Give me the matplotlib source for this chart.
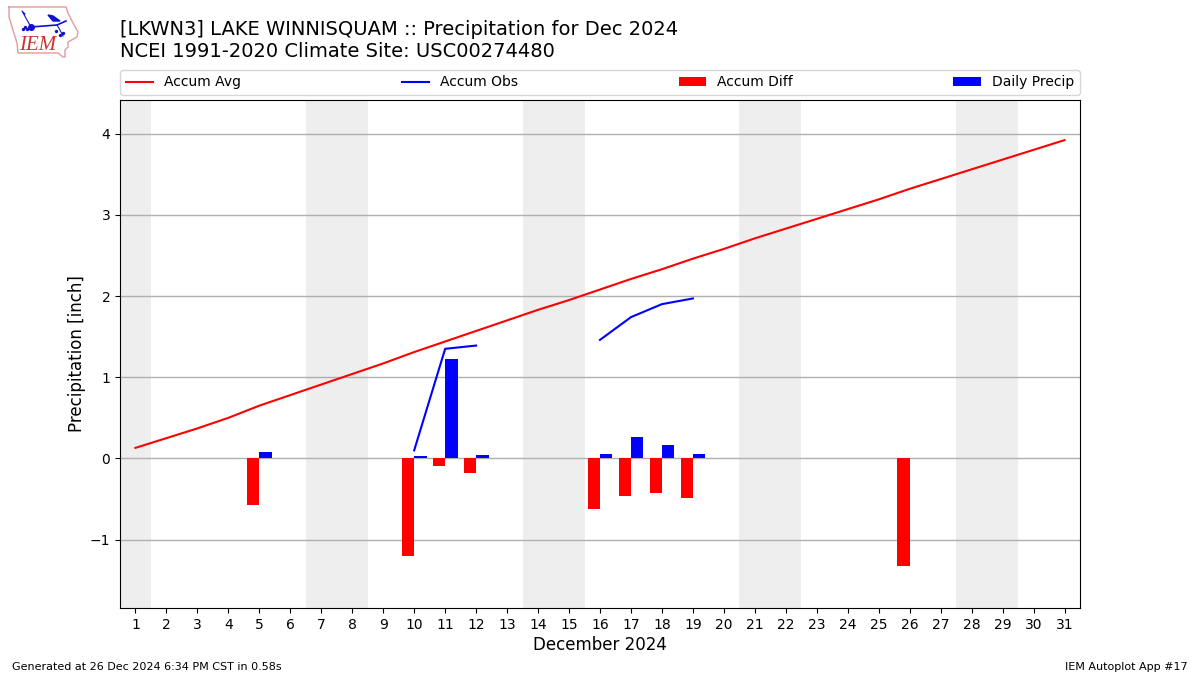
import numpy as np
import matplotlib
matplotlib.use("Agg")
import matplotlib.pyplot as plt

# Values
days = list(range(1, 32))
accum_avg = [0.13, 0.25, 0.37, 0.50, 0.65, 0.78, 0.91, 1.04, 1.17, 1.31, 1.44,
             1.57, 1.70, 1.83, 1.95, 2.08, 2.21, 2.33, 2.46, 2.58, 2.71, 2.83,
             2.95, 3.07, 3.19, 3.32, 3.44, 3.56, 3.68, 3.80, 3.92]
obs_segments_days = [[10, 11, 12], [16, 17, 18, 19]]
obs_segments_vals = [[0.10, 1.35, 1.39], [1.46, 1.74, 1.90, 1.97]]
diff_days = [5, 10, 11, 12, 16, 17, 18, 19, 26]
accum_diff = [-0.57, -1.20, -0.09, -0.18, -0.62, -0.46, -0.42, -0.49, -1.33]
precip_days = [5, 10, 11, 12, 16, 17, 18, 19]
daily_precip = [0.08, 0.03, 1.23, 0.04, 0.06, 0.27, 0.16, 0.06]
weekends = [(0.5, 1.5), (6.5, 8.5), (13.5, 15.5), (20.5, 22.5), (27.5, 29.5)]

# Logo shapes, in figure pixels
state_x = [9, 66, 68, 73, 78, 77, 68, 68, 65, 65, 63, 58, 18, 17, 13, 9, 9]
state_y = [7, 7, 13, 23, 32, 37, 42, 47, 50, 57, 57, 53, 53, 43, 30, 17, 7]
staff_x = [31, 57, 66]
staff_y = [27, 25, 21]
flag_x = [48, 53, 60, 53, 48]
flag_y = [15, 16, 21, 21, 15]
barb_x = [31, 27, 22, 25]
barb_y = [27, 20, 11, 14]
drop_x = [23, 25, 27, 56, 60, 63]
drop_y = [29, 27, 29, 31, 35, 33]

fig = plt.figure(figsize=(12, 6.75), dpi=100)
ax = fig.add_axes([120 / 1200, 1 - 608 / 675, 960 / 1200, 508 / 675])

for start, end in weekends:
    ax.axvspan(start, end, color="#eeeeee", lw=0, zorder=0)

ax.plot(days, accum_avg, color="r", lw=1.5, label="Accum Avg", zorder=3)
for i in range(len(obs_segments_days)):
    ax.plot(obs_segments_days[i], obs_segments_vals[i], color="b", lw=1.5,
            label="Accum Obs" if i == 0 else None, zorder=3)
ax.bar(np.array(diff_days) - 0.4, accum_diff, width=0.4, align="edge", color="r",
       label="Accum Diff", zorder=2)
ax.bar(precip_days, daily_precip, width=0.4, align="edge", color="b",
       label="Daily Precip", zorder=2)

ax.set_xlim(0.5, 31.5)
ax.set_ylim(-1.842, 4.414)
ax.set_xticks(days)
ax.set_yticks([-1, 0, 1, 2, 3, 4])
ax.grid(axis="y", color="#b0b0b0", lw=1)
ax.set_axisbelow(True)
ax.set_xlabel("December 2024", fontsize=12, labelpad=3)
ax.set_ylabel("Precipitation [inch]", fontsize=12, labelpad=3)
ax.legend(loc="lower left", bbox_to_anchor=(0, 1.01, 1, 0.1), ncol=4, mode="expand",
          borderaxespad=0, fontsize=10)

fig.text(120 / 1200, 1 - 61 / 675,
         "[LKWN3] LAKE WINNISQUAM :: Precipitation for Dec 2024\n"
         "NCEI 1991-2020 Climate Site: USC00274480", fontsize=14, va="bottom", ha="left")
fig.text(12 / 1200, 1 - 670 / 675, "Generated at 26 Dec 2024 6:34 PM CST in 0.58s", fontsize=8)
fig.text(1188 / 1200, 1 - 670 / 675, "IEM Autoplot App #17", fontsize=8, ha="right")

# IEM logo drawn on a pixel-sized overlay
logo = fig.add_axes([0, 0, 1, 1], facecolor="none")
logo.set_xlim(0, 1200)
logo.set_ylim(675, 0)
logo.axis("off")
logo.plot(state_x, state_y, color="#e59a9a", lw=1)
logo.plot(staff_x, staff_y, color="#1010d0", lw=1.2)
logo.fill(flag_x, flag_y, color="#1010d0")
logo.plot(barb_x, barb_y, color="#1010d0", lw=0.8)
logo.scatter([31], [27], s=16, color="#1010d0")
logo.scatter(drop_x, drop_y, s=2, color="#1010d0")
logo.plot([57, 60, 63], [25, 30, 36], color="#1010d0", lw=0.8)
logo.text(38, 45, "IEM", family="Liberation Serif", style="italic", fontsize=15,
          color="#d03030", ha="center", va="center")

fig.savefig("out.png", dpi=100)
